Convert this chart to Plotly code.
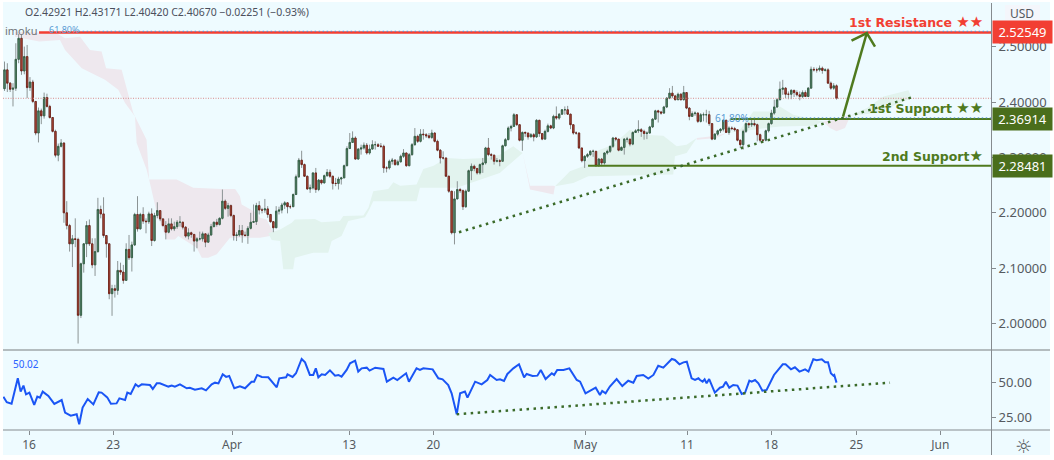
import plotly.graph_objects as go

# ---------- price data (4-hour bars) ----------
close_a = [2.458,2.434,2.423,2.425,2.477,2.515,2.456,2.482,2.426,2.436,
           2.401,2.344,2.384,2.375,2.408,2.392,2.372,2.347,2.304,2.320,
           2.326,2.200,2.177,2.144,2.153,2.152,2.015,2.108,2.144,2.177,
           2.144,2.106,2.130,2.206,2.198,2.159,2.144,2.054,2.063,2.060,
           2.096,2.093,2.078,2.134,2.119,2.142,2.197,2.171,2.197,2.185,
           2.184,2.198,2.150,2.195,2.204,2.189,2.177,2.165,2.180,2.171,
           2.175,2.183,2.183,2.174,2.158,2.164,2.161,2.149,2.153,2.153,
           2.162,2.147,2.160,2.175,2.183,2.179,2.190,2.221,2.208,2.213,
           2.195,2.159,2.160,2.168,2.160,2.159,2.172,2.183,2.184,2.213]
high_a = [2.473,2.470,2.436,2.434,2.506,2.523,2.522,2.500,2.503,2.445,
          2.440,2.401,2.390,2.388,2.417,2.415,2.395,2.372,2.350,2.325,
          2.333,2.327,2.221,2.180,2.160,2.190,2.155,2.110,2.145,2.185,
          2.188,2.154,2.154,2.227,2.213,2.228,2.160,2.145,2.070,2.070,
          2.113,2.110,2.106,2.145,2.160,2.148,2.200,2.230,2.200,2.210,
          2.190,2.202,2.208,2.200,2.219,2.205,2.190,2.185,2.190,2.190,
          2.184,2.187,2.194,2.184,2.176,2.172,2.166,2.161,2.156,2.166,
          2.166,2.163,2.164,2.180,2.184,2.189,2.192,2.242,2.224,2.218,
          2.215,2.197,2.165,2.178,2.178,2.166,2.176,2.200,2.215,2.218]
low_a = [2.420,2.418,2.418,2.392,2.420,2.470,2.449,2.450,2.407,2.420,
         2.398,2.340,2.327,2.360,2.370,2.390,2.370,2.345,2.300,2.293,
         2.318,2.182,2.170,2.130,2.102,2.138,1.964,2.010,2.092,2.120,
         2.140,2.100,2.086,2.128,2.190,2.155,2.119,2.044,2.014,2.047,
         2.052,2.088,2.072,2.077,2.115,2.094,2.140,2.166,2.170,2.180,
         2.163,2.180,2.140,2.148,2.190,2.185,2.175,2.152,2.163,2.168,
         2.167,2.171,2.175,2.170,2.155,2.152,2.155,2.130,2.136,2.150,
         2.148,2.138,2.146,2.158,2.174,2.175,2.177,2.188,2.205,2.193,
         2.192,2.150,2.149,2.157,2.146,2.157,2.144,2.170,2.182,2.178]

close_b = [2.205,2.205,2.207,2.197,2.184,2.173,2.203,2.205,2.214,2.218,
           2.211,2.211,2.233,2.265,2.295,2.287,2.266,2.243,2.245,2.272,
           2.242,2.259,2.254,2.267,2.273,2.266,2.253,2.253,2.261,2.263,
           2.285,2.316,2.327,2.335,2.297,2.315,2.317,2.322,2.308,2.315,
           2.323,2.323,2.320,2.320,2.281,2.281,2.293,2.295,2.287,2.292,
           2.302,2.308,2.285,2.305,2.323,2.338,2.329,2.342,2.341,2.339,
           2.336,2.344,2.329,2.313,2.299,2.299,2.266,2.239,2.164,2.225,
           2.242,2.240,2.211,2.239,2.276,2.284,2.280,2.272,2.287,2.290,
           2.317,2.305,2.304,2.293,2.294,2.293,2.321,2.332,2.353,2.356,2.377]
high_b = [2.221,2.209,2.225,2.212,2.197,2.185,2.212,2.211,2.218,2.221,
          2.219,2.215,2.235,2.269,2.299,2.312,2.289,2.267,2.251,2.273,
          2.281,2.261,2.259,2.269,2.279,2.278,2.267,2.263,2.265,2.265,
          2.287,2.320,2.344,2.347,2.338,2.317,2.323,2.327,2.326,2.323,
          2.331,2.329,2.326,2.326,2.323,2.284,2.296,2.299,2.297,2.296,
          2.305,2.315,2.305,2.308,2.326,2.353,2.341,2.351,2.351,2.344,
          2.344,2.350,2.345,2.332,2.315,2.311,2.299,2.267,2.239,2.239,
          2.257,2.245,2.242,2.242,2.278,2.289,2.287,2.281,2.289,2.299,
          2.319,2.335,2.308,2.305,2.299,2.297,2.323,2.335,2.356,2.359,2.380]
low_b = [2.197,2.199,2.200,2.191,2.182,2.165,2.173,2.197,2.199,2.207,
         2.199,2.207,2.215,2.233,2.263,2.281,2.265,2.242,2.236,2.242,
         2.236,2.239,2.251,2.253,2.265,2.263,2.242,2.248,2.242,2.251,
         2.263,2.284,2.315,2.326,2.296,2.296,2.305,2.314,2.305,2.305,
         2.315,2.314,2.319,2.317,2.272,2.273,2.278,2.287,2.285,2.285,
         2.291,2.299,2.283,2.284,2.303,2.321,2.326,2.327,2.332,2.335,
         2.333,2.333,2.327,2.311,2.289,2.296,2.265,2.236,2.161,2.143,
         2.225,2.236,2.205,2.209,2.239,2.259,2.275,2.269,2.269,2.272,
         2.287,2.302,2.296,2.287,2.291,2.284,2.293,2.320,2.331,2.347,2.355]

close_c = [2.359,2.331,2.345,2.344,2.337,2.341,2.337,2.367,2.343,2.333,
           2.347,2.357,2.353,2.374,2.371,2.378,2.386,2.386,2.378,2.359,
           2.344,2.344,2.317,2.294,2.302,2.305,2.311,2.311,2.285,2.297,
           2.290,2.308,2.311,2.320,2.335,2.333,2.313,2.318,2.333,2.333,
           2.324,2.345,2.348,2.350,2.347,2.343,2.344,2.355,2.369,2.384,
           2.382,2.380,2.391,2.407,2.416,2.411,2.404,2.414,2.404,2.417,
           2.389,2.374,2.379,2.380,2.365,2.377,2.377,2.377,2.361,2.333,
           2.342,2.348,2.351,2.367,2.345,2.353,2.352,2.350,2.331,2.323,
           2.347,2.361,2.359,2.361,2.359,2.341,2.331,2.331,2.348,2.361,
           2.380,2.391,2.404]
high_c = [2.377,2.359,2.347,2.347,2.344,2.344,2.344,2.369,2.367,2.344,
          2.350,2.361,2.359,2.377,2.392,2.380,2.387,2.392,2.393,2.379,
          2.359,2.347,2.345,2.317,2.304,2.308,2.313,2.314,2.311,2.299,
          2.299,2.309,2.314,2.321,2.337,2.337,2.333,2.320,2.335,2.337,
          2.333,2.347,2.351,2.367,2.353,2.350,2.347,2.357,2.371,2.386,
          2.386,2.384,2.393,2.409,2.425,2.429,2.413,2.417,2.416,2.429,
          2.417,2.391,2.383,2.383,2.381,2.380,2.381,2.386,2.384,2.359,
          2.344,2.350,2.353,2.369,2.368,2.356,2.356,2.355,2.351,2.332,
          2.350,2.363,2.363,2.368,2.371,2.361,2.343,2.333,2.350,2.363,
          2.386,2.404,2.407]
low_c = [2.357,2.329,2.312,2.337,2.332,2.337,2.329,2.335,2.337,2.331,
         2.332,2.345,2.351,2.351,2.368,2.368,2.377,2.377,2.377,2.351,
         2.341,2.341,2.315,2.291,2.281,2.299,2.303,2.301,2.283,2.283,
         2.284,2.287,2.305,2.308,2.317,2.329,2.311,2.312,2.305,2.327,
         2.320,2.322,2.344,2.344,2.337,2.332,2.333,2.343,2.353,2.368,
         2.363,2.377,2.379,2.389,2.405,2.407,2.403,2.404,2.403,2.403,
         2.387,2.367,2.373,2.375,2.362,2.363,2.365,2.363,2.357,2.331,
         2.332,2.339,2.344,2.347,2.344,2.341,2.349,2.347,2.329,2.317,
         2.314,2.344,2.353,2.355,2.356,2.329,2.327,2.327,2.329,2.345,
         2.359,2.377,2.389]

close_d = [2.423,2.425,2.414,2.414,2.421,2.417,2.413,2.410,2.417,2.410,
           2.425,2.459,2.458,2.458,2.461,2.457,2.458,2.434,2.425,2.42921,2.40670]
high_d = [2.437,2.440,2.427,2.419,2.423,2.422,2.421,2.419,2.421,2.421,
          2.427,2.464,2.463,2.462,2.466,2.464,2.461,2.461,2.437,2.434,2.43171]
low_d = [2.405,2.413,2.407,2.405,2.405,2.409,2.410,2.403,2.407,2.409,
         2.409,2.425,2.455,2.453,2.455,2.451,2.455,2.433,2.422,2.422,2.40420]

first_open = 2.424

closes = close_a + close_b + close_c + close_d
highs = high_a + high_b + high_c + high_d
lows = low_a + low_b + low_c + low_d
assert len(closes) == len(highs) == len(lows), (len(closes), len(highs), len(lows))
opens = [first_open] + closes[:-1]
bars = list(range(len(closes)))

# ---------- RSI ----------
rsi_bar_a = [-0.4,0.8,2.5,3.7,4.7,5.7,6.7,7.6,8.8,10.5,11.6,12.5,13.5,15.5,17.6,20.2,21.4,23.4,25.5,26.4,
             27.6,29.4,31.4,33.3,34.3,36.3,37.6,39.6,40.6,42.6,43.4,44.6,46.3,47.3,48.5,51.4,52.4,53.8,54.9,57.9,
             59.1,60.2,62,64.4,65.5,67.3,69.7,71.2,73.2,74.4,75.6,77.1,78.3,79.4,81.2,83.2,85,87.3,88.2,89.3,
             90.9,93.2,96.2,97.1,99.5,100,101.8,103,105,106.2,107.9,109.1,110,110.9,112.1,113.3,115,116.8,118,119.1,
             120.9,122.1]
rsi_val_a = [40.0,36.0,35.0,46.0,53.1,43.6,47.9,41.7,42.9,34.1,40.0,39.3,43.6,40.5,34.8,37.6,28.6,26.4,27.4,20.3,
             32.2,38.3,34.5,43.1,42.9,39.5,35.0,35.2,38.8,37.6,42.9,41.9,48.8,47.2,48.8,48.3,45.5,49.5,49.5,47.2,
             47.9,47.2,48.8,46.0,46.4,45.0,46.0,44.5,48.8,50.0,49.5,56.0,54.1,54.8,46.0,47.4,46.0,50.7,50.7,55.5,
             54.1,53.8,46.7,53.1,53.8,56.0,54.1,56.7,66.9,64.5,55.5,55.5,60.2,53.8,56.0,55.5,58.8,55.0,55.5,54.3,
             59.1,63.8]
rsi_bar_b = [123.9,125,126.2,128,129,131,133.9,135.1,137.4,138.8,141.9,142.9,145.6,146.8,148,151.3,153.3,154.8,156.8,158,
             159.8,161,162.7,163.6,166.3,168.6,170.6,171.6,173.9,175.1,176.5,177.7,179.8,181.8,183.6,184.5,186.6,188.3,189.5,191.2,
             193.4,194.2,195.3,197.5,199.6,202.2,203.4,205.3,208.9,210.4,211.2,212.4,213.9,216.3,218.3,220.4,222.2,223.4,225.7,227.5,
             229.3,231,232.8,235.8,236.9,238.5,239.9,241.1,242.8,244,245.2]
rsi_val_b = [65.7,57.9,60.2,60.7,58.6,60.7,59.8,50.7,53.6,51.9,56.7,50.7,60.2,59.1,60.2,59.5,53.1,52.4,48.3,42.4,
             27.4,42.4,43.6,39.3,50.7,48.8,51.9,55.5,51.9,52.4,51.2,56.2,60.2,63.1,53.8,56.2,54.8,55.0,59.1,52.6,
             56.7,55.5,59.1,59.1,60.2,51.9,50.7,42.4,46.4,41.2,44.1,42.4,47.2,52.6,47.6,51.4,50.0,54.8,55.5,52.9,
             55.5,62.1,60.7,66.9,66.2,63.1,64.5,65.0,53.1,51.9,53.1]
rsi_bar_c = [245.8,246.7,247.4,248.1,249,251,252.8,253.9,254.9,256.1,257.5,259,260.5,261.7,263.2,264,265.2,266.4,267.8,269.3,
             271.9,275,276,277.9,279.3,280.9,282.9,284.1,285.8,287,288.8,290,291,292,292.9,293.2,294]
rsi_val_c = [51.9,50.7,52.4,49.5,52.6,42.9,46.4,47.2,50.7,46.4,48.3,47.9,41.9,42.9,51.4,50.7,51.9,49.5,44.3,44.8,
             55.5,63.1,63.1,59.5,61.0,57.9,59.5,57.9,66.7,66.0,66.7,64.5,64.5,56.7,55.0,55.5,50.02]
rsi_bars = rsi_bar_a + rsi_bar_b + rsi_bar_c
rsi_vals = rsi_val_a + rsi_val_b + rsi_val_c
assert len(rsi_bars) == len(rsi_vals), (len(rsi_bars), len(rsi_vals))

# ---------- levels and drawn lines ----------
resistance_1 = 2.52549
support_1 = 2.36914
support_2 = 2.28481
last_price = 2.40670
trend_bars = [160.6, 321.4]
trend_prices = [2.165, 2.4096]
rsi_trend_bars = [159.8, 312.9]
rsi_trend_vals = [27.4, 50.0]
arrow_bars = [296.3, 304.7]
arrow_prices = [2.3735, 2.5245]
arrow_head_bars = [299.3, 304.7, 307.6]
arrow_head_prices = [2.5106, 2.5245, 2.4998]
res_start_bar = 12.2
sup1_start_bar = 256.5
sup2_start_bar = 206.2

# ---------- Ichimoku cloud patches ----------
cloud_red = [
    ([3.7,18.4,21.4,26.7,30.2,34.3,35.9,41.4,45.5,50.2,51.1,60.8,64.4,66.7,76.7,81.5,83.2,83.8,89.1,90.3,92.6,95,96.8],
     [2.527,2.524,2.515,2.518,2.494,2.491,2.461,2.458,2.380,2.332,2.260,2.260,2.251,2.245,2.243,2.243,2.230,2.215,2.200,2.191,2.188,2.164,2.161],
     [3.7,12.3,19.6,21.4,27.3,35.5,40.2,42.6,46.1,46.7,50.2,51.1,53.8,56.1,57.3,60.2,61.4,67.9,69.7,72,75,79.7,90.3,96.8],
     [2.518,2.509,2.512,2.494,2.461,2.440,2.422,2.398,2.374,2.326,2.278,2.260,2.200,2.167,2.152,2.152,2.158,2.137,2.119,2.119,2.125,2.155,2.155,2.161]),
    ([183.1,185.7,194,194.5], [2.308,2.249,2.249,2.248],
     [183.1,185.7,190.4,194,194.5], [2.308,2.242,2.237,2.233,2.248]),
    ([244.6,251.6,255.2], [2.335,2.339,2.344], [244.6,251.6,255.2], [2.332,2.335,2.344]),
    ([289.3,292.8,298.8], [2.365,2.367,2.377], [289.3,291.7,294,297,298.8], [2.365,2.353,2.347,2.353,2.374]),
]
cloud_green = [
    ([93.2,97.4,101.5,102.6,109.7,112,118.5,119.7,126.8,128.6,130.3,135.6,137.4,139.8,145.6,148,151.6,156.2,162.1,170.4,175,179.8,182.1,183.1],
     [2.163,2.170,2.182,2.188,2.189,2.183,2.185,2.194,2.195,2.209,2.239,2.243,2.255,2.249,2.251,2.279,2.285,2.299,2.297,2.299,2.305,2.320,2.311,2.308],
     [93.2,94.4,97.4,98.5,102,102.6,109.1,114.4,115.6,119.1,121.5,127.4,128.6,130.3,139.8,145.6,146.8,159.8,175,183.1],
     [2.163,2.151,2.149,2.098,2.098,2.119,2.128,2.128,2.149,2.158,2.185,2.192,2.203,2.221,2.221,2.221,2.245,2.245,2.272,2.308]),
    ([194.5,197.5,199.8,204.5,206.9,210.4,215.1,221,225.7,232.8,237.5,241,244.6],
     [2.248,2.263,2.275,2.284,2.305,2.314,2.323,2.350,2.341,2.339,2.320,2.323,2.335],
     [194.5,201,206.3,236.3,236.9,241,244.6],
     [2.248,2.254,2.266,2.269,2.302,2.308,2.335]),
    ([255.2,259.9,264.6,271.7,274,278.7,285.8,289.3],
     [2.344,2.350,2.383,2.383,2.392,2.377,2.369,2.365],
     [255.2,264.6,274,285.8,289.3],
     [2.344,2.350,2.356,2.357,2.365]),
    ([298.8,304.7,310.6,319.4,320.6], [2.375,2.389,2.410,2.421,2.407],
     [298.8,308.2,320.6], [2.375,2.380,2.407]),
]

# ---------- axis labels ----------
price_ticks = [2.0, 2.1, 2.2, 2.3, 2.4, 2.5]
rsi_ticks = [25, 50]
time_tick_bars = [8.7, 38.4, 80.4, 121.8, 151.5, 205.2, 241.2, 270.9, 301, 330.7]
time_tick_labels = ["16", "23", "Apr", "13", "20", "May", "11", "18", "25", "Jun"]

# ---------- styling ----------
BG = "#EEFBFF"
RED = "#F23F33"
GREEN = "#4F7A1E"
TAG_GREEN = "#4A6E1C"
DOT = "#3B6B2A"
AXIS = "#858B8F"
TXT = "#555A60"
UI = "Noto Sans"
W, H = 1054, 460
L, R, T, B = 3, 63, 3, 30
PW, PH = W - L - R, H - T - B
SPACING = 2.83
x0 = -(4.5 - L) / SPACING
x1 = x0 + PW / SPACING
split = (430 - 349) / PH
rsi_top = (430 - 351) / PH
main_lo = 2.4 - (349 - 102) / 554
main_hi = 2.4 + (102 - T) / 554


def patch(xu, yu, xl, yl, color):
    xs = list(xu) + list(reversed(xl))
    ys = list(yu) + list(reversed(yl))
    d = "M " + " L ".join(f"{a},{b}" for a, b in zip(xs, ys)) + " Z"
    return dict(type="path", path=d, xref="x", yref="y", layer="below",
                fillcolor=color, line=dict(width=0))


shapes = []
for p in cloud_red:
    shapes.append(patch(*p, "#EEE8EE"))
for p in cloud_green:
    shapes.append(patch(*p, "#E2F3EE"))


def px(a):
    return (a - L) / PW


def py(a):
    return (H - B - a) / PH


# page panel, separators
shapes.insert(0, dict(type="rect", xref="paper", yref="paper", x0=px(3), x1=px(1050), y0=py(455), y1=py(2),
                      fillcolor=BG, line=dict(width=0), layer="below"))
shapes += [
    dict(type="line", xref="paper", yref="paper", x0=px(3), x1=px(1050), y0=py(350), y1=py(350),
         line=dict(color="#B3BCBF", width=2)),
    dict(type="line", xref="paper", yref="paper", x0=px(3), x1=px(1050), y0=py(430), y1=py(430),
         line=dict(color=AXIS, width=1)),
    dict(type="line", xref="paper", yref="paper", x0=px(991.5), x1=px(991.5), y0=py(455), y1=py(3),
         line=dict(color=AXIS, width=1)),
    dict(type="rect", xref="paper", yref="paper", x0=px(1005), x1=px(1040), y0=py(22), y1=py(5),
         fillcolor="#F4F6FB", line=dict(width=0), layer="below"),
]

fig = go.Figure()


def seg(xs, ys, color, width, dash="solid", yaxis="y"):
    fig.add_trace(go.Scatter(x=xs, y=ys, mode="lines", yaxis=yaxis, hoverinfo="skip",
                             line=dict(color=color, width=width, dash=dash), showlegend=False))


# wicks in grey
fig.add_trace(go.Candlestick(x=bars, open=opens, high=highs, low=lows, close=closes,
                             increasing=dict(line=dict(color="#8C9495", width=1), fillcolor="#8C9495"),
                             decreasing=dict(line=dict(color="#8C9495", width=1), fillcolor="#8C9495"),
                             showlegend=False, hoverinfo="skip"))
# bodies with dark edges
body_hi = [max(a, b) for a, b in zip(opens, closes)]
body_lo = [min(a, b) for a, b in zip(opens, closes)]
fig.add_trace(go.Candlestick(x=bars, open=opens, high=body_hi, low=body_lo, close=closes,
                             increasing=dict(line=dict(color="#2F5B3F", width=0.8), fillcolor="#5E8F75"),
                             decreasing=dict(line=dict(color="#6E1A10", width=0.8), fillcolor="#B85645"),
                             showlegend=False, hoverinfo="skip"))

DOTS = "2.5px,4.5px"
seg([x0, x1], [last_price, last_price], "#D98C8C", 1, "1px,1.5px")
seg([res_start_bar, x1], [resistance_1, resistance_1], RED, 2.5)
seg([res_start_bar + 14, x1], [resistance_1 + 0.0022, resistance_1 + 0.0022], "#4C8FD6", 1, "1.5px,2.5px")
seg([sup1_start_bar, x1], [support_1, support_1], GREEN, 2)
seg([sup1_start_bar + 4, x1], [support_1 + 0.0022, support_1 + 0.0022], "#4C8FD6", 1, "1.5px,2.5px")
seg([sup2_start_bar, x1], [support_2, support_2], GREEN, 2)
seg(trend_bars, trend_prices, DOT, 2.5, DOTS)
seg(arrow_bars, arrow_prices, GREEN, 2.5)
seg(arrow_head_bars, arrow_head_prices, GREEN, 2.5)

seg(rsi_bars, rsi_vals, "#1A55F5", 2, yaxis="y2")
seg(rsi_trend_bars, rsi_trend_vals, DOT, 2.5, DOTS, yaxis="y2")

anns = []


def note(text, x, y, size, color, anchor="left", family=UI, bold=False, vy="middle"):
    anns.append(dict(text=f"<b>{text}</b>" if bold else text, x=px(x), y=py(y), xref="paper", yref="paper",
                     xanchor=anchor, yanchor=vy, showarrow=False,
                     font=dict(size=size, color=color, family=family)))


STARS2 = '<span style="font-size:15px">★★</span>'
STAR1 = '<span style="font-size:15px">★</span>'
note("O2.42921 H2.43171 L2.40420 C2.40670 −0.02251 (−0.93%)", 23, 12, 10.5, "#4B4F5C")
note("imoku", 3, 31, 11, "#6E7378")
note("61.80%", 47, 30, 9, "#5B9BD5")
note("61.80%", 713, 118, 10, "#5B9BD5")
note("50.02", 11, 364, 10, "#2962FF")
note("USD", 1022.5, 13, 12, TXT, anchor="center")
note("☼", 1023, 446, 19, TXT, anchor="center", family="DejaVu Sans")
note("1st Resistance " + STARS2, 985, 22, 12.5, RED, anchor="right", family="DejaVu Sans", bold=True)
note("1st Support " + STARS2, 985, 108, 12.5, GREEN, anchor="right", family="DejaVu Sans", bold=True)
note("2nd Support" + STAR1, 985, 156, 12.5, GREEN, anchor="right", family="DejaVu Sans", bold=True)

for level, col in [(resistance_1, RED), (support_1, TAG_GREEN), (support_2, TAG_GREEN)]:
    anns.append(dict(text=f"{level:.5f}", x=1, y=level, xref="paper", yref="y", xanchor="left", yanchor="middle",
                     xshift=1, showarrow=False, width=57, height=20, bgcolor=col, align="center",
                     font=dict(size=13, color="white", family=UI)))

fig.update_layout(
    width=W, height=H, autosize=False, paper_bgcolor="white", plot_bgcolor=BG,
    margin=dict(l=L, r=R, t=T, b=B, pad=0), showlegend=False, hovermode=False,
    font=dict(family=UI, size=12, color=TXT),
    xaxis=dict(domain=[0, 1], range=[x0, x1], anchor="y2", showgrid=False, zeroline=False, showline=False,
               rangeslider=dict(visible=False), tickmode="array", tickvals=time_tick_bars,
               ticktext=time_tick_labels, ticks="outside", ticklen=4, tickcolor=AXIS,
               tickfont=dict(size=12, color=TXT)),
    yaxis=dict(domain=[split, 1], range=[main_lo, main_hi], side="right", anchor="x", showgrid=False,
               zeroline=False, showline=False, tickmode="array", tickvals=price_ticks,
               ticktext=[f"{v:.5f}" for v in price_ticks], ticks="outside", ticklen=4, tickcolor=AXIS,
               tickfont=dict(size=13, color=TXT)),
    yaxis2=dict(domain=[0, rsi_top], range=[16.2, 72.6], side="right", anchor="x", showgrid=False,
                zeroline=False, showline=False, tickmode="array", tickvals=rsi_ticks,
                ticktext=[f"{v:.2f}" for v in rsi_ticks], ticks="outside", ticklen=4, tickcolor=AXIS,
                tickfont=dict(size=13, color=TXT)),
    shapes=shapes, annotations=anns,
)

fig.write_html("out.html", config=dict(displayModeBar=False),
               post_script="document.body.style.margin='0';document.body.style.background='white';")
